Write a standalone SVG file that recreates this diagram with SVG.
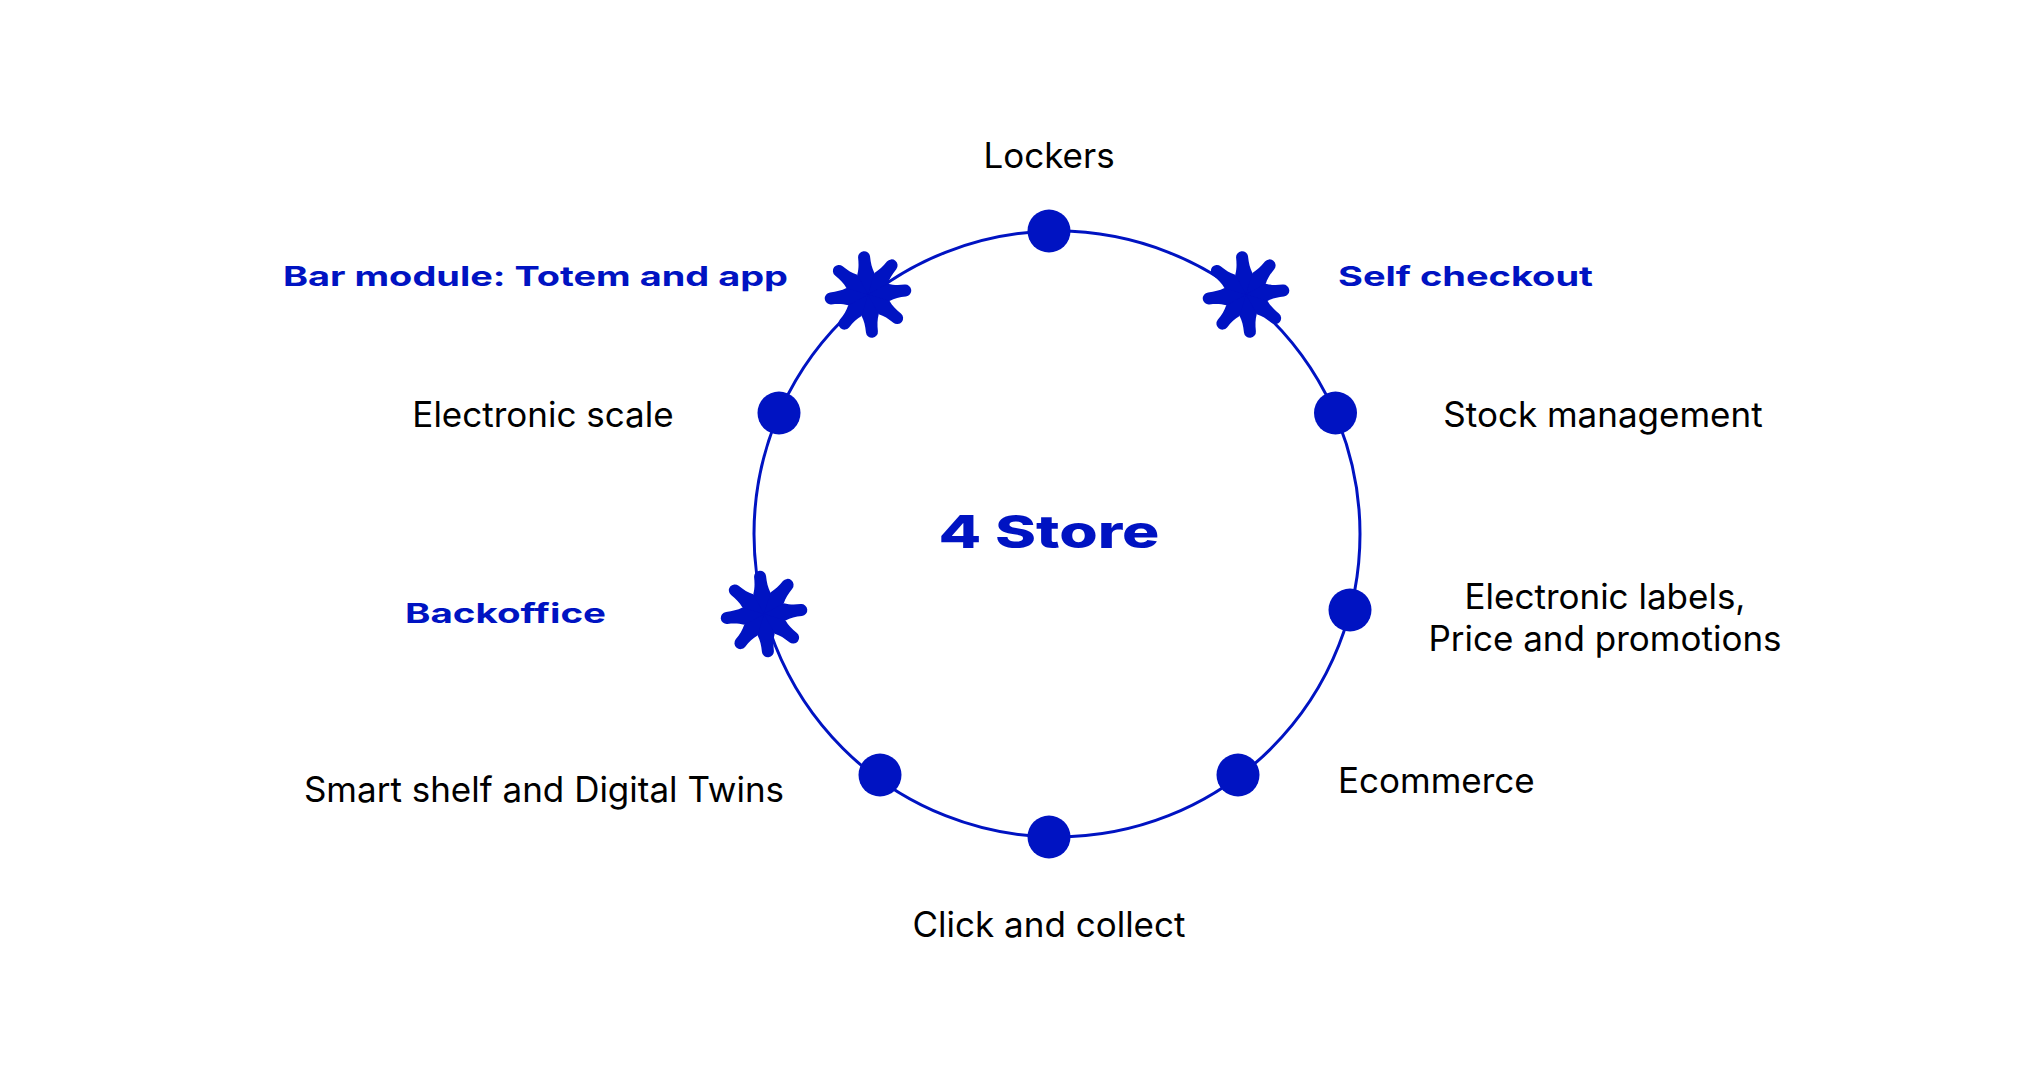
<svg xmlns="http://www.w3.org/2000/svg" xmlns:xlink="http://www.w3.org/1999/xlink" width="2035" height="1080" viewBox="0 0 2035 1080">
<style>
.lbl{font-family:Inter,"Liberation Sans",sans-serif;font-size:35px;fill:#000000;}
.hl{font-family:Inter,"Liberation Sans",sans-serif;font-weight:700;font-size:27.5px;fill:#0013C2;}
.title{font-family:Inter,"Liberation Sans",sans-serif;font-weight:800;font-size:45px;fill:#0013C2;}
.dot{fill:#0013C2;}
.ring{fill:none;stroke:#0013C2;stroke-width:3;}
</style>
<defs>
<path id="lobe" d="M0,0 L-8.6,-20.8 C-6.6,-26 -6,-31 -6,-37.5 A6,6 0 0 1 6,-37.5 C6,-31 6.6,-26 8.6,-20.8 Z"/>
<g id="star" fill="#0013C2">
<circle r="22"/>
<use xlink:href="#lobe" transform="rotate(-6)"/>
<use xlink:href="#lobe" transform="rotate(39)"/>
<use xlink:href="#lobe" transform="rotate(84)"/>
<use xlink:href="#lobe" transform="rotate(129)"/>
<use xlink:href="#lobe" transform="rotate(174)"/>
<use xlink:href="#lobe" transform="rotate(219)"/>
<use xlink:href="#lobe" transform="rotate(264)"/>
<use xlink:href="#lobe" transform="rotate(309)"/>
</g>
</defs>
<rect width="2035" height="1080" fill="#ffffff"/>
<g id="connectors">
<circle class="ring" cx="1057" cy="534" r="303"/>
</g>
<g id="center">
<text class="title" x="1049" y="548" text-anchor="middle" textLength="221" lengthAdjust="spacingAndGlyphs">4 Store</text>
</g>
<g id="lockers">
<circle class="dot" cx="1049" cy="231" r="21.5"/>
<text class="lbl" x="1049" y="168" text-anchor="middle">Lockers</text>
</g>
<g id="self-checkout">
<use xlink:href="#star" x="1246" y="294.5"/>
<text class="hl" x="1338" y="286" textLength="255" lengthAdjust="spacingAndGlyphs">Self checkout</text>
</g>
<g id="stock-management">
<circle class="dot" cx="1335.5" cy="413" r="21.5"/>
<text class="lbl" x="1603" y="427" text-anchor="middle">Stock management</text>
</g>
<g id="electronic-labels">
<circle class="dot" cx="1350" cy="610" r="21.5"/>
<text class="lbl" x="1605" y="609" text-anchor="middle">Electronic labels,</text>
<text class="lbl" x="1605" y="651" text-anchor="middle">Price and promotions</text>
</g>
<g id="ecommerce">
<circle class="dot" cx="1238" cy="775" r="21.5"/>
<text class="lbl" x="1338" y="793">Ecommerce</text>
</g>
<g id="click-and-collect">
<circle class="dot" cx="1049" cy="837" r="21.5"/>
<text class="lbl" x="1049" y="937" text-anchor="middle">Click and collect</text>
</g>
<g id="smart-shelf">
<circle class="dot" cx="880" cy="775" r="21.5"/>
<text class="lbl" x="544" y="802" text-anchor="middle">Smart shelf and Digital Twins</text>
</g>
<g id="backoffice">
<use xlink:href="#star" x="764" y="614"/>
<text class="hl" x="405" y="623" textLength="201" lengthAdjust="spacingAndGlyphs">Backoffice</text>
</g>
<g id="electronic-scale">
<circle class="dot" cx="779" cy="413" r="21.5"/>
<text class="lbl" x="543" y="427" text-anchor="middle">Electronic scale</text>
</g>
<g id="bar-module">
<use xlink:href="#star" x="868" y="294.5"/>
<text class="hl" x="283" y="286" textLength="505" lengthAdjust="spacingAndGlyphs">Bar module: Totem and app</text>
</g>
</svg>
